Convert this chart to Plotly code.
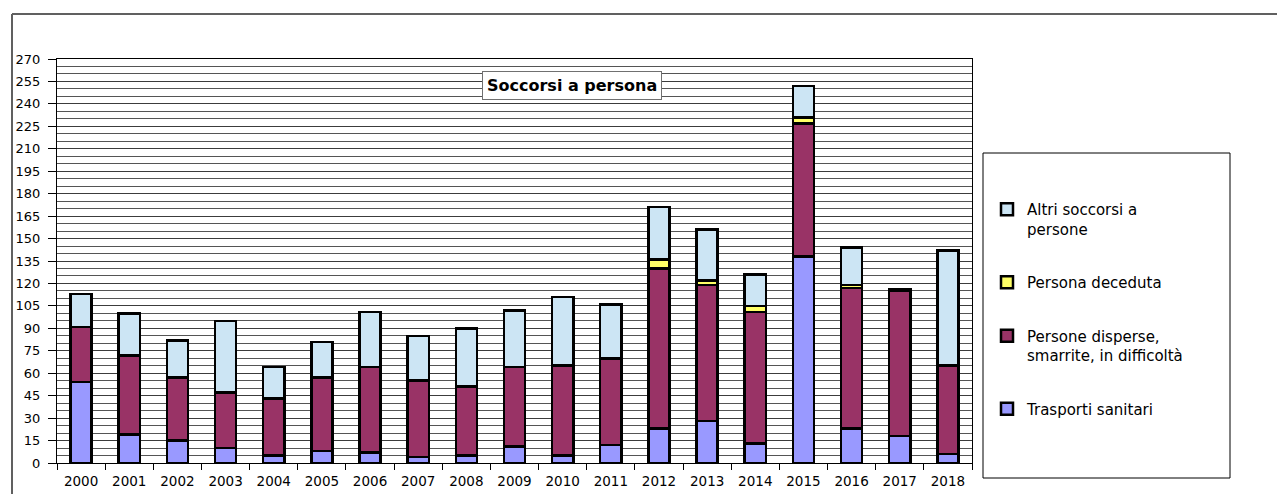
import plotly.graph_objects as go

years = [str(y) for y in range(2000, 2019)]
trasporti = [54, 19, 15, 10, 5, 8, 7, 4, 5, 11, 5, 12, 23, 28, 13, 138, 23, 18, 6]
disperse = [37, 53, 42, 37, 38, 49, 57, 51, 46, 53, 60, 58, 107, 91, 88, 89, 94, 97, 59]
deceduta = [0, 0, 0, 0, 0, 0, 0, 0, 0, 0, 0, 0, 6, 3, 4, 4, 2, 0, 0]
altri = [22, 28, 25, 48, 21, 24, 37, 30, 39, 38, 46, 36, 35, 34, 21, 21, 25, 1, 77]

series = [
    ("Trasporti sanitari", trasporti, "#9999FF"),
    ("Persone disperse,<br>smarrite, in difficoltà", disperse, "#993366"),
    ("Persona deceduta", deceduta, "#FFFF66"),
    ("Altri soccorsi a<br>persone", altri, "#CCE5F4"),
]

W, H = 1277, 494
L, R, T, B = 57, 972, 59, 463


def px(x):
    return (x - L) / (R - L)


def py(y):
    return (B - y) / (B - T)


fig = go.Figure()
for i, (name, vals, col) in enumerate(series):
    fig.add_trace(go.Bar(
        x=years, y=vals, name=name, legendgroup=f"g{i}",
        legendrank=10 - i,
        marker=dict(color=col, line=dict(color="black", width=2.5)),
    ))

fig.update_layout(
    width=W, height=H,
    margin=dict(l=L, r=W - R, t=T, b=H - B, autoexpand=False),
    barmode="stack", bargap=0.56,
    paper_bgcolor="white", plot_bgcolor="white",
    font=dict(family="DejaVu Sans", color="black"),
    showlegend=True,
    legend=dict(
        x=px(987), xanchor="left", y=py(193), yanchor="top",
        traceorder="grouped", tracegroupgap=31,
        font=dict(family="DejaVu Sans", size=15, color="black"),
        bgcolor="rgba(0,0,0,0)", borderwidth=0, valign="top",
    ),
    xaxis=dict(
        type="category", tickson="boundaries", ticks="outside", ticklen=6,
        tickcolor="black", showline=True, linecolor="black", linewidth=1,
        mirror=True, showgrid=False, tickfont=dict(size=13.5), ticklabelstandoff=6,
        automargin=False,
    ),
    yaxis=dict(
        range=[0, 270], dtick=15, tick0=0, ticks="outside", ticklen=8,
        tickcolor="black", showline=True, linecolor="black", linewidth=1,
        mirror=True, showgrid=True, gridcolor="#3c3c3c", gridwidth=1,
        tickfont=dict(size=13), ticklabelstandoff=5, zeroline=False,
        automargin=False,
        minor=dict(dtick=5, showgrid=True, gridcolor="#555555", gridwidth=1),
    ),
    shapes=[
        dict(type="line", xref="paper", yref="paper", x0=px(12), y0=py(14),
             x1=px(1277), y1=py(14), line=dict(color="#606060", width=2)),
        dict(type="line", xref="paper", yref="paper", x0=px(12), y0=py(14),
             x1=px(12), y1=py(494), line=dict(color="#606060", width=2)),
        dict(type="rect", xref="paper", yref="paper", x0=px(983), y0=py(478),
             x1=px(1230), y1=py(153), line=dict(color="black", width=1),
             fillcolor="rgba(0,0,0,0)"),
    ],
    annotations=[
        dict(text="<b>Soccorsi a persona</b>", xref="paper", yref="paper",
             x=px(571.5), y=py(86), xanchor="center", yanchor="middle",
             showarrow=False, font=dict(family="DejaVu Sans", size=16, color="black"),
             bgcolor="white", bordercolor="#707070", borderwidth=1, borderpad=4),
    ],
)

fig.write_html("out.html")
